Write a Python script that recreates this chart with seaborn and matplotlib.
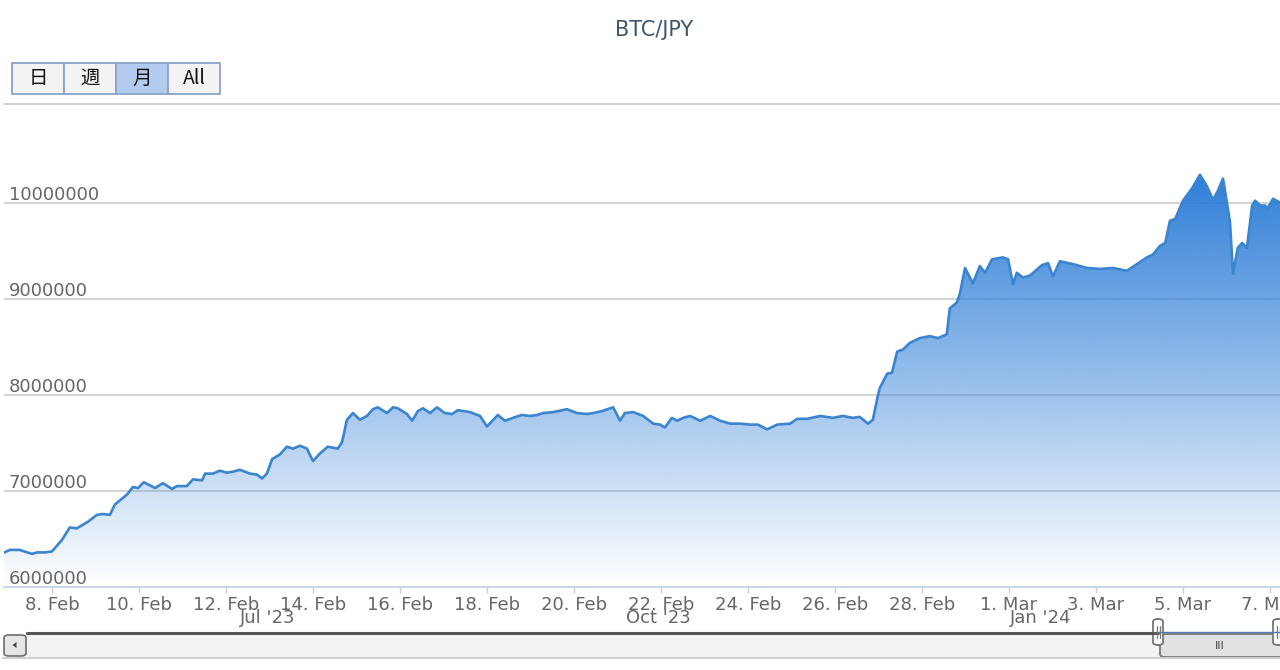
import numpy as np
import pandas as pd
import matplotlib
matplotlib.use("Agg")
import matplotlib.pyplot as plt
import matplotlib.dates as mdates
from matplotlib.patches import Rectangle, FancyBboxPatch, Polygon
from matplotlib.lines import Line2D
from matplotlib.colors import to_rgb
import seaborn as sns

# ---------------- data ----------------
title = "BTC/JPY"
range_buttons = ["日", "週", "月", "All"]
selected_button = "月"

# time as day-of-February 2024 (day 30 = 1 Mar)
feb_day = [6.90, 7.03, 7.26, 7.43, 7.54, 7.66, 7.84, 8.00, 8.23, 8.41,
           8.57, 8.83, 9.03, 9.17, 9.33, 9.45, 9.72, 9.86, 9.98, 10.11,
           10.37, 10.55, 10.76, 10.87, 11.10, 11.24, 11.45, 11.52, 11.70, 11.86,
           12.02, 12.16, 12.32, 12.55, 12.71, 12.83, 12.94, 13.06, 13.24, 13.40,
           13.54, 13.70, 13.86, 14.00, 14.16, 14.34, 14.57, 14.67, 14.78, 14.92,
           15.08, 15.24, 15.38, 15.49, 15.70, 15.84, 15.95, 16.16, 16.28, 16.41,
           16.53, 16.69, 16.85, 17.03, 17.20, 17.33, 17.61, 17.84, 18.00, 18.25,
           18.41, 18.60, 18.80, 18.99, 19.15, 19.29, 19.52, 19.84, 20.07, 20.30,
           20.44, 20.64, 20.90, 21.06, 21.17, 21.36, 21.59, 21.82, 21.98, 22.09,
           22.25, 22.37, 22.51, 22.67, 22.90, 23.13, 23.36, 23.59, 23.82, 24.05,
           24.23, 24.44, 24.67, 24.97, 25.13, 25.36, 25.66, 25.95, 26.18, 26.41,
           26.57, 26.76, 26.87, 26.99, 27.03, 27.20, 27.31, 27.43, 27.56, 27.72,
           27.95, 28.18, 28.37, 28.57, 28.64, 28.80, 28.87, 28.99, 29.17, 29.33,
           29.45, 29.61, 29.86, 29.98, 30.09, 30.18, 30.32, 30.48, 30.76, 30.90,
           31.01, 31.17, 31.47, 31.79, 32.09, 32.39, 32.71, 32.94, 33.17, 33.31,
           33.47, 33.59, 33.70, 33.82, 34.00, 34.21, 34.39, 34.55, 34.69, 34.80,
           34.92, 35.08, 35.15, 35.26, 35.36, 35.47, 35.59, 35.66, 35.77, 35.89,
           35.93, 36.07, 36.23]

price = [6358000, 6386000, 6386000, 6360000, 6345000, 6360000, 6360000, 6370000, 6490000, 6620000,
         6610000, 6680000, 6750000, 6760000, 6750000, 6860000, 6960000, 7040000, 7030000, 7090000,
         7030000, 7080000, 7020000, 7050000, 7050000, 7120000, 7110000, 7180000, 7180000, 7210000,
         7190000, 7200000, 7220000, 7180000, 7170000, 7130000, 7180000, 7330000, 7380000, 7460000,
         7440000, 7470000, 7440000, 7310000, 7390000, 7460000, 7440000, 7510000, 7740000, 7810000,
         7740000, 7780000, 7850000, 7870000, 7810000, 7870000, 7860000, 7800000, 7730000, 7830000,
         7860000, 7810000, 7870000, 7810000, 7800000, 7840000, 7820000, 7780000, 7670000, 7790000,
         7730000, 7760000, 7790000, 7780000, 7790000, 7810000, 7820000, 7850000, 7810000, 7800000,
         7810000, 7830000, 7870000, 7730000, 7810000, 7820000, 7780000, 7700000, 7690000, 7660000,
         7760000, 7730000, 7760000, 7780000, 7730000, 7780000, 7730000, 7700000, 7700000, 7690000,
         7690000, 7640000, 7690000, 7700000, 7750000, 7750000, 7780000, 7760000, 7780000, 7760000,
         7770000, 7700000, 7740000, 8000000, 8070000, 8220000, 8230000, 8450000, 8470000, 8540000,
         8590000, 8610000, 8590000, 8630000, 8900000, 8960000, 9050000, 9320000, 9160000, 9340000,
         9270000, 9410000, 9430000, 9410000, 9150000, 9270000, 9220000, 9240000, 9350000, 9370000,
         9230000, 9390000, 9360000, 9320000, 9310000, 9320000, 9290000, 9360000, 9430000, 9460000,
         9550000, 9580000, 9810000, 9830000, 10020000, 10150000, 10290000, 10170000, 10030000, 10120000,
         10250000, 9800000, 9260000, 9530000, 9580000, 9530000, 9970000, 10020000, 9970000, 9970000,
         9930000, 10040000, 10000000]

tick_dates = ["2024-02-08", "2024-02-10", "2024-02-12", "2024-02-14", "2024-02-16",
              "2024-02-18", "2024-02-20", "2024-02-22", "2024-02-24", "2024-02-26",
              "2024-02-28", "2024-03-01", "2024-03-03", "2024-03-05", "2024-03-07"]
tick_labels = ["8. Feb", "10. Feb", "12. Feb", "14. Feb", "16. Feb", "18. Feb", "20. Feb",
               "22. Feb", "24. Feb", "26. Feb", "28. Feb", "1. Mar", "3. Mar", "5. Mar", "7. Mar"]
y_ticks = [6000000, 7000000, 8000000, 9000000, 10000000]
nav_labels = ["Jul '23", "Oct '23", "Jan '24"]

# ---------------- style ----------------
sns.set_theme(style="white")
plt.rcParams["font.family"] = ["DejaVu Sans", "Noto Sans CJK JP"]

W, H = 1280, 670
def fx(px):
    return px / W
def fy(py):
    return 1 - py / H

LINE = "#3a84d0"
FILL = "#2f7ed8"
LABEL = "#666666"

fig = plt.figure(figsize=(12.8, 6.7), dpi=100)
ax = fig.add_axes([fx(4), fy(587), fx(1280) - fx(4), fy(104.3) - fy(587)])

times = pd.Timestamp("2024-02-01") + pd.to_timedelta(np.array(feb_day) - 1, unit="D")
df = pd.DataFrame({"time": times, "price": price})

sns.lineplot(data=df, x="time", y="price", ax=ax, color=LINE, linewidth=1.9,
             sort=False, zorder=4, legend=False)

poly = ax.fill_between(df["time"], df["price"], y_ticks[0], facecolor="none",
                       edgecolor="none", zorder=2)

xnum = mdates.date2num(df["time"])
grad = np.zeros((256, 1, 4))
grad[..., :3] = to_rgb(FILL)
grad[..., 3] = np.linspace(1.0, 0.0, 256)[:, None]
im = ax.imshow(grad, aspect="auto", origin="upper",
               extent=[xnum.min(), xnum.max(), y_ticks[0], max(price)],
               zorder=2, interpolation="bilinear")
im.set_clip_path(poly.get_paths()[0], transform=ax.transData)

x0 = mdates.date2num(pd.Timestamp("2024-02-01") + pd.to_timedelta(6.897 - 1, unit="D"))
x1 = mdates.date2num(pd.Timestamp("2024-02-01") + pd.to_timedelta(36.23 - 1, unit="D"))
ax.set_xlim(x0, x1)
ax.set_ylim(6000000, 11023000)

for v in y_ticks[1:]:
    ax.axhline(v, color="#c8c8c8", lw=1.1, zorder=1)
for v in y_ticks:
    ax.annotate(f"{v}", xy=(0, v), xycoords=("axes fraction", "data"),
                xytext=(5, 3), textcoords="offset pixels", ha="left", va="baseline",
                fontsize=13, color=LABEL, zorder=5)

ax.set_yticks([])
ax.set_xticks(mdates.date2num(pd.to_datetime(tick_dates)))
ax.set_xticklabels(tick_labels)
ax.tick_params(axis="x", direction="out", length=4.3, width=1, color="#c0d0e0",
               pad=2.5, labelsize=13, labelcolor=LABEL, bottom=True)
ax.set_xlabel("")
ax.set_ylabel("")
for s in ["left", "right"]:
    ax.spines[s].set_visible(False)
ax.spines["top"].set_color("#c4c4c4")
ax.spines["top"].set_linewidth(1.1)
ax.spines["bottom"].set_color("#c0d0e0")
ax.spines["bottom"].set_linewidth(1.3)
ax.grid(False)

# ---------------- title ----------------
fig.text(fx(654), fy(30), title, ha="center", va="center", fontsize=15, color="#3E576F")

# ---------------- range selector buttons ----------------
bx, bw, by0, by1 = 12, 52, 63, 94
for i, lab in enumerate(range_buttons):
    sel = lab == selected_button
    fig.add_artist(Rectangle((fx(bx + i * bw), fy(by1)), bw / W, (by1 - by0) / H,
                             transform=fig.transFigure,
                             facecolor="#b3cbee" if sel else "#f3f3f3",
                             edgecolor="#8aa3c6", lw=1.3))
    fig.text(fx(bx + i * bw + bw / 2), fy((by0 + by1) / 2), lab, ha="center", va="center",
             fontsize=14, color="#111111", family=["Noto Sans CJK JP", "DejaVu Sans"])

# ---------------- navigator labels ----------------
for lab, px in zip(nav_labels, [268, 658, 1041]):
    fig.text(fx(px), fy(618), lab, ha="center", va="center", fontsize=13, color=LABEL)

# ---------------- scrollbar / navigator ----------------
fig.add_artist(Rectangle((fx(27), fy(657)), (1280 - 27) / W, (657 - 634) / H,
                         transform=fig.transFigure, facecolor="#f3f3f3", edgecolor="none"))
fig.add_artist(Line2D([fx(3), fx(1280)], [fy(657.5), fy(657.5)], transform=fig.transFigure,
                      color="#cfcfcf", lw=1.5))
fig.add_artist(FancyBboxPatch((fx(4), fy(656)), 22 / W, 21 / H,
                              boxstyle="round,pad=0,rounding_size=0.004",
                              transform=fig.transFigure, facecolor="#e6e6e6",
                              edgecolor="#777777", lw=1.3))
fig.add_artist(Polygon([[fx(12.5), fy(645)], [fx(16.5), fy(642)], [fx(16.5), fy(648)]],
                       closed=True, transform=fig.transFigure, facecolor="#444444",
                       edgecolor="none"))
fig.add_artist(Line2D([fx(27), fx(1158)], [fy(632.5), fy(632.5)], transform=fig.transFigure,
                      color="#555555", lw=2.2))
fig.add_artist(Line2D([fx(1158), fx(1280)], [fy(632), fy(632)], transform=fig.transFigure,
                      color="#4f7fb8", lw=1.0))
fig.add_artist(FancyBboxPatch((fx(1160), fy(657)), 140 / W, 23 / H,
                              boxstyle="round,pad=0,rounding_size=0.004",
                              transform=fig.transFigure, facecolor="#e2e2e2",
                              edgecolor="#777777", lw=1.3))
fig.text(fx(1220), fy(646), "III", ha="center", va="center", fontsize=8, color="#444444")
for hx in [1158, 1278]:
    fig.add_artist(FancyBboxPatch((fx(hx - 5), fy(645)), 10 / W, 26 / H,
                                  boxstyle="round,pad=0,rounding_size=0.004",
                                  transform=fig.transFigure, facecolor="#ffffff",
                                  edgecolor="#777777", lw=1.3))
    for dx in (-1.5, 1.5):
        fig.add_artist(Line2D([fx(hx + dx), fx(hx + dx)], [fy(626), fy(638)],
                              transform=fig.transFigure, color="#777777", lw=0.9))

fig.savefig("out.png", dpi=100)
